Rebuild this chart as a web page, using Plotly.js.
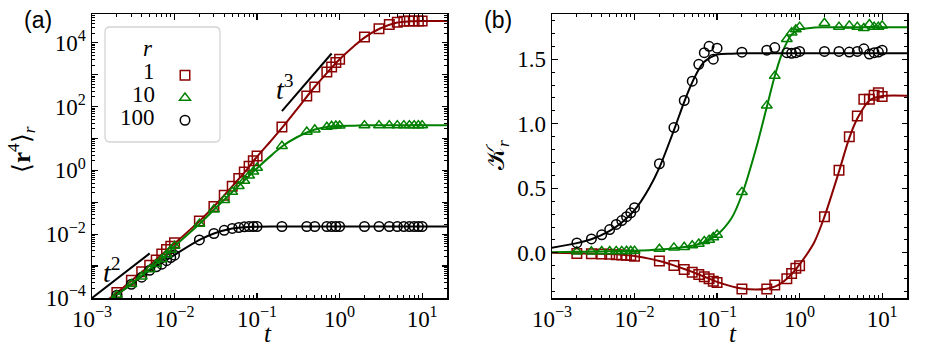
<!DOCTYPE html>
<html>
<head>
<meta charset="utf-8">
<script src="https://cdn.plot.ly/plotly-3.0.1.min.js"></script>
<style>body{margin:0;background:#fff}</style>
</head>
<body>
<div id="myDiv" style="width:926px;height:348px"></div>
<script>
// sampled times (markers)
var tMarks = [0.002,0.003,0.004,0.005,0.006,0.007,0.008,0.009,0.01,
  0.02,0.03,0.04,0.05,0.06,0.07,0.08,0.09,0.1,
  0.2,0.4,0.5,0.7,0.8,0.9,1,
  2,3,4,5,6,7,8,9,10];

// (a) <r^4>_r, markers
var m4_r1 = [1.48e-4,3.6e-4,6.6e-4,1.07e-3,1.55e-3,2.4e-3,3.3e-3,4.2e-3,5.4e-3,
  0.026,0.074,0.166,0.32,0.56,0.89,1.35,2.0,2.8,
  23,214,407,1200,1740,2400,3020,
  15100,27500,37200,43600,46800,47900,47900,47900,47900];
var m4_r10 = [1.23e-4,2.7e-4,4.7e-4,7.9e-4,1.15e-3,1.62e-3,2.3e-3,3.2e-3,4.3e-3,
  0.021,0.059,0.117,0.21,0.32,0.47,0.68,0.91,1.2,
  5.8,16.2,19,22.9,24.5,25.1,25.1,
  25.7,25.7,25.7,25.7,25.7,25.7,25.7,25.7,25.7];
var m4_r100 = [1.23e-4,2.7e-4,4.5e-4,7.4e-4,9.5e-4,1.15e-3,1.48e-3,1.86e-3,2.2e-3,
  6.6e-3,0.0105,0.0132,0.0151,0.0162,0.017,0.0174,0.0174,0.0174,
  0.0174,0.0174,0.0174,0.0174,0.0174,0.0174,0.0174,
  0.0174,0.0174,0.0174,0.0174,0.0174,0.0174,0.0174,0.0174,0.0174];

// (a) fitted curves
var tCurveA = [0.001,0.002,0.003,0.005,0.007,0.01,0.02,0.03,0.05,0.07,0.1,0.15,0.2,0.3,0.5,0.7,1,1.5,2,3,5,7,10,20];
var c4_r1 = [3.7e-5,1.45e-4,3.5e-4,1.05e-3,2.3e-3,5.1e-3,0.0257,0.074,0.316,0.85,2.7,8.9,21.4,79,417,1120,3020,7900,14500,26900,42700,46800,47900,47900];
var c4_r10 = [3.2e-5,1.26e-4,2.75e-4,8.1e-4,1.66e-3,4.2e-3,0.021,0.058,0.21,0.48,1.17,3.0,5.6,10.7,19,22.9,24.5,25.1,25.7,25.7,25.7,25.7,25.7,25.7];
var c4_r100 = [3.2e-5,1.26e-4,2.7e-4,7.4e-4,1.26e-3,2.24e-3,6.6e-3,0.0105,0.0151,0.0166,0.0172,0.0174,0.0174,0.0174,0.0174,0.0174,0.0174,0.0174,0.0174,0.0174,0.0174,0.0174,0.0174,0.0174];

// guide lines t^2 and t^3
var tGuide2 = [0.001,0.005];
var vGuide2 = [1e-4,2.5e-3];
var tGuide3 = [0.2,0.8];
var vGuide3 = [72,4600];

// (b) K_r, markers
var k_r1 = [-0.005,-0.008,-0.01,-0.012,-0.014,-0.016,-0.018,-0.02,-0.026,
  -0.064,-0.098,-0.13,-0.15,-0.168,-0.186,-0.2,-0.22,-0.23,
  -0.28,-0.28,-0.25,-0.2,-0.16,-0.12,-0.1,
  0.28,0.64,0.9,1.06,1.19,1.19,1.22,1.24,1.21];
var k_r10 = [0.01,0.01,0.012,0.012,0.013,0.013,0.014,0.014,0.015,
  0.03,0.04,0.045,0.057,0.07,0.09,0.1,0.12,0.14,
  0.47,1.14,1.37,1.655,1.706,1.73,1.75,
  1.78,1.75,1.76,1.75,1.74,1.77,1.75,1.75,1.76];
var k_r100 = [0.077,0.108,0.139,0.18,0.22,0.25,0.28,0.31,0.35,
  0.69,0.97,1.18,1.33,1.46,1.55,1.6,1.5,1.585,
  1.554,1.57,1.59,1.55,1.546,1.55,1.56,
  1.56,1.56,1.555,1.56,1.58,1.54,1.55,1.555,1.57];

// (b) fitted curves
var tCurveB = [0.001,0.002,0.003,0.005,0.007,0.01,0.015,0.02,0.03,0.04,0.05,0.06,0.07,0.1,0.15,0.2,0.3,0.4,0.5,0.6,0.7,0.8,1,1.5,2,3,4,5,7,10,20];
var ck_r1 = [0,-0.003,-0.006,-0.01,-0.015,-0.025,-0.045,-0.063,-0.097,-0.125,-0.148,-0.168,-0.185,-0.225,-0.26,-0.277,-0.285,-0.278,-0.262,-0.235,-0.2,-0.165,-0.09,0.08,0.28,0.63,0.89,1.04,1.18,1.215,1.217];
var ck_r10 = [0.005,0.008,0.01,0.012,0.014,0.016,0.02,0.025,0.035,0.045,0.055,0.068,0.082,0.14,0.27,0.45,0.82,1.13,1.37,1.53,1.63,1.69,1.73,1.745,1.747,1.747,1.747,1.747,1.747,1.747,1.747];
var ck_r100 = [0.04,0.075,0.105,0.17,0.235,0.33,0.5,0.66,0.95,1.17,1.32,1.42,1.48,1.535,1.543,1.545,1.545,1.545,1.545,1.545,1.545,1.545,1.545,1.545,1.545,1.545,1.545,1.545,1.545,1.545,1.545];

// tick labels
var xTickVals = [0.001,0.01,0.1,1,10];
var xTickText = ['10<sup>\u22123</sup>','10<sup>\u22122</sup>','10<sup>\u22121</sup>','10<sup>0</sup>','10<sup>1</sup>'];
var yTickVals = [1e-4,1e-3,1e-2,1e-1,1,10,100,1e3,1e4];
var yTickText = ['10<sup>\u22124</sup>','','10<sup>\u22122</sup>','','10<sup>0</sup>','','10<sup>2</sup>','','10<sup>4</sup>'];

var RED = '#8b0000', GREEN = '#008000', BLACK = '#000000';
var SERIF = 'Liberation Serif';

// minor ticks 2..9 in each decade
function minorLog(lo, hi) {
    var out = [];
    for (var e = lo; e <= hi; e++) {
        for (var k = 2; k <= 9; k++) out.push(k * Math.pow(10, e));
    }
    return out;
}

function curve(x, y, col, xa, ya) {
    return {x: x, y: y, xaxis: xa, yaxis: ya, type: 'scatter', mode: 'lines',
        line: {color: col, width: 2, shape: 'spline', smoothing: 0.8},
        hoverinfo: 'skip', showlegend: false};
}
function marks(x, y, col, sym, xa, ya) {
    return {x: x, y: y, xaxis: xa, yaxis: ya, type: 'scatter', mode: 'markers',
        marker: {symbol: sym, size: 9.5, color: col, line: {color: col, width: 1.5}},
        showlegend: false};
}
function guide(x, y) {
    return {x: x, y: y, xaxis: 'x', yaxis: 'y', type: 'scatter', mode: 'lines',
        line: {color: BLACK, width: 2}, hoverinfo: 'skip', showlegend: false};
}

var data = [
    curve(tCurveA, c4_r1, RED, 'x', 'y'),
    marks(tMarks, m4_r1, RED, 'square-open', 'x', 'y'),
    curve(tCurveA, c4_r100, BLACK, 'x', 'y'),
    marks(tMarks, m4_r100, BLACK, 'circle-open', 'x', 'y'),
    curve(tCurveA, c4_r10, GREEN, 'x', 'y'),
    marks(tMarks, m4_r10, GREEN, 'triangle-up-open', 'x', 'y'),
    guide(tGuide2, vGuide2),
    guide(tGuide3, vGuide3),
    curve(tCurveB, ck_r1, RED, 'x2', 'y2'),
    marks(tMarks, k_r1, RED, 'square-open', 'x2', 'y2'),
    curve(tCurveB, ck_r10, GREEN, 'x2', 'y2'),
    marks(tMarks, k_r10, GREEN, 'triangle-up-open', 'x2', 'y2'),
    curve(tCurveB, ck_r100, BLACK, 'x2', 'y2'),
    marks(tMarks, k_r100, BLACK, 'circle-open', 'x2', 'y2')
];

// legend symbols: shown through plotly's legend, with no names
data[1].showlegend = true; data[1].name = ' '; data[1].legendrank = 1;
data[5].showlegend = true; data[5].name = ' '; data[5].legendrank = 2;
data[3].showlegend = true; data[3].name = ' '; data[3].legendrank = 3;

var W = 926, H = 348;
function px(v) { return v / W; }
function py(v) { return 1 - v / H; }

function ax(extra, minor) {
    return Object.assign({
        showline: true, linecolor: 'black', linewidth: 1.5, mirror: 'allticks',
        ticks: 'inside', ticklen: 5.5, tickwidth: 1.2, tickcolor: 'black',
        showgrid: false, zeroline: false, automargin: false,
        tickfont: {family: SERIF, size: 23, color: 'black'},
        minor: Object.assign({ticks: 'inside', ticklen: 3, tickwidth: 1,
            tickcolor: 'black', showgrid: false}, minor)
    }, extra);
}

var tiny = {family: SERIF, size: 25, color: 'black'};

// legend box, rounded corners
var bx0 = px(105), bx1 = px(220), by0 = py(142), by1 = py(27);
var rx = px(5), ry = 5 / H;
var boxPath = 'M' + (bx0 + rx) + ',' + by1 + ' L' + (bx1 - rx) + ',' + by1 +
    ' Q' + bx1 + ',' + by1 + ' ' + bx1 + ',' + (by1 - ry) +
    ' L' + bx1 + ',' + (by0 + ry) + ' Q' + bx1 + ',' + by0 + ' ' + (bx1 - rx) + ',' + by0 +
    ' L' + (bx0 + rx) + ',' + by0 + ' Q' + bx0 + ',' + by0 + ' ' + bx0 + ',' + (by0 + ry) +
    ' L' + bx0 + ',' + (by1 - ry) + ' Q' + bx0 + ',' + by1 + ' ' + (bx0 + rx) + ',' + by1 + ' Z';

function note(x, y, text, opts) {
    return Object.assign({xref: 'paper', yref: 'paper', x: px(x), y: py(y), text: text,
        showarrow: false, xanchor: 'center', yanchor: 'middle', font: tiny}, opts || {});
}
var legFont = {family: SERIF, size: 23, color: 'black'};

var layout = {
    width: W, height: H,
    margin: {l: 0, r: 0, t: 0, b: 0},
    paper_bgcolor: 'white', plot_bgcolor: 'white',
    font: {family: SERIF, size: 21, color: 'black'},
    showlegend: true,
    legend: {x: px(165), y: py(59), xanchor: 'left', yanchor: 'top',
        bgcolor: 'rgba(0,0,0,0)', borderwidth: 0, font: {family: SERIF, size: 15},
        itemwidth: 30, tracegroupgap: 0, traceorder: 'normal'},
    xaxis: ax({type: 'log', domain: [px(92), px(447)], range: [-3, Math.log10(20)],
        tickvals: xTickVals, ticktext: xTickText, anchor: 'y'},
        {tickmode: 'array', tickvals: minorLog(-3, 1)}),
    yaxis: ax({type: 'log', domain: [py(298), py(14)], range: [-4, 4.9],
        tickvals: yTickVals, ticktext: yTickText, anchor: 'x'},
        {tickmode: 'array', tickvals: minorLog(-4, 4)}),
    xaxis2: ax({type: 'log', domain: [px(552), px(907)], range: [-3, Math.log10(20)],
        tickvals: xTickVals, ticktext: xTickText, anchor: 'y2'},
        {tickmode: 'array', tickvals: minorLog(-3, 1)}),
    yaxis2: ax({domain: [py(298), py(14)], range: [-0.35, 1.85], dtick: 0.5,
        tickformat: '.1f', anchor: 'x2'}, {dtick: 0.1}),
    shapes: [{type: 'path', xref: 'paper', yref: 'paper', path: boxPath,
        line: {color: '#d4d4d4', width: 1.3}, fillcolor: 'rgba(255,255,255,0.8)', layer: 'above'}],
    annotations: [
        note(38, 20, '(a)', {font: {family: 'Liberation Sans', size: 23, color: 'black'}}),
        note(498, 20, '(b)', {font: {family: 'Liberation Sans', size: 23, color: 'black'}}),
        note(268, 333, '<i>t</i>'),
        note(733, 333, '<i>t</i>'),
        note(21, 150, '\u27e8<b>r</b><sup>4</sup>\u27e9<sub><i>r</i></sub>', {textangle: -90}),
        note(497, 155, '\ud835\udca6<sub><i>r</i></sub>', {textangle: -90}),
        note(112, 270, '<i>t</i><sup>2</sup>', {font: {family: SERIF, size: 28, color: 'black'}}),
        note(285, 87, '<i>t</i><sup>3</sup>', {font: {family: SERIF, size: 28, color: 'black'}}),
        note(148, 49, '<i>r</i>', {font: legFont}),
        note(157, 72, '1', {xanchor: 'right', font: legFont}),
        note(157, 95, '10', {xanchor: 'right', font: legFont}),
        note(157, 118, '100', {xanchor: 'right', font: legFont})
    ]
};

var config = {staticPlot: true, responsive: false};
Plotly.newPlot(document.getElementById('myDiv'), data, layout, config);
</script>
</body>
</html>
